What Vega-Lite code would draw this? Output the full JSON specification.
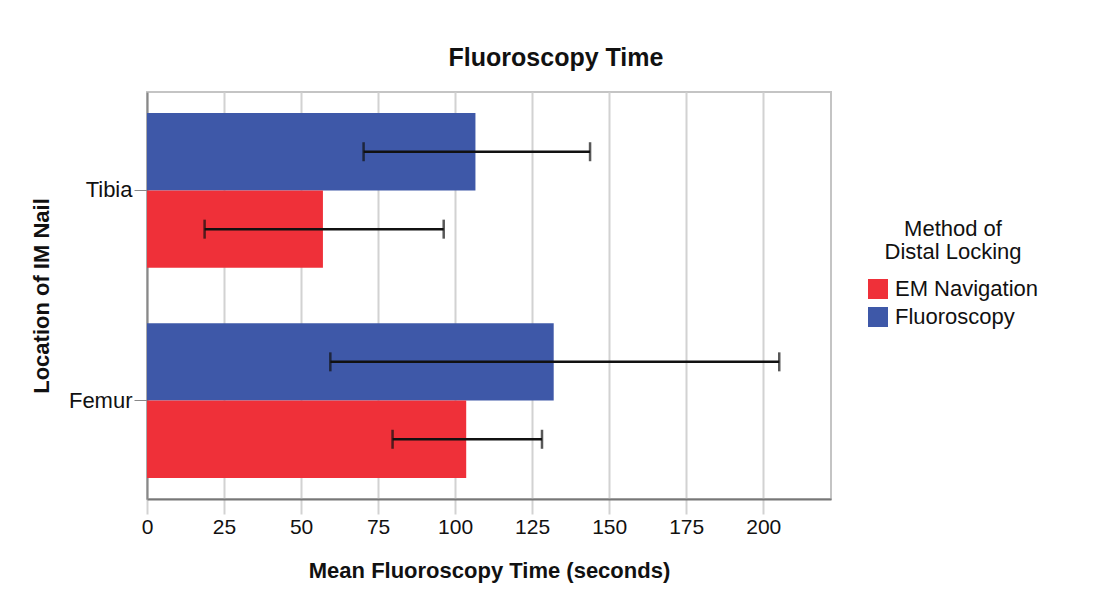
{
  "$schema": "https://vega.github.io/schema/vega-lite/v6.json",
  "autosize": {"type": "none"},
  "width": 684,
  "height": 407,
  "padding": {"left": 147, "top": 92, "right": 269, "bottom": 94},
  "background": "white",
  "title": {
    "text": "Fluoroscopy Time",
    "fontSize": 25,
    "fontWeight": "bold",
    "font": "Liberation Sans",
    "color": "#111",
    "anchor": "middle",
    "frame": "group",
    "dx": 67,
    "offset": 21
  },
  "data": {
    "values": [
      {"location": "Tibia", "method": "Fluoroscopy", "mean": 106.6, "low": 70.3, "high": 143.8},
      {"location": "Tibia", "method": "EM Navigation", "mean": 57.1, "low": 18.7, "high": 96.3},
      {"location": "Femur", "method": "Fluoroscopy", "mean": 132.0, "low": 59.5, "high": 205.2},
      {"location": "Femur", "method": "EM Navigation", "mean": 103.6, "low": 79.7, "high": 128.2}
    ]
  },
  "encoding": {
    "y": {
      "field": "location",
      "type": "nominal",
      "sort": ["Tibia", "Femur"],
      "scale": {"paddingInner": 0.263, "paddingOuter": 0.1},
      "axis": {
        "title": "Location of IM Nail",
        "titleFontSize": 22,
        "titleFontWeight": "bold",
        "titleX": -106,
        "titleY": 203.5,
        "titleAngle": -90,
        "titleBaseline": "middle",
        "titleAlign": "center",
        "labelFontSize": 22,
        "labelPadding": 2,
        "labelBaseline": "middle",
        "tickSize": 13,
        "tickColor": "#888",
        "tickWidth": 1,
        "domainColor": "#888",
        "domainWidth": 2,
        "grid": false
      }
    },
    "yOffset": {
      "field": "method",
      "type": "nominal",
      "sort": ["Fluoroscopy", "EM Navigation"],
      "scale": {"paddingInner": 0, "paddingOuter": 0}
    }
  },
  "layer": [
    {
      "mark": {"type": "bar", "cornerRadius": 0},
      "encoding": {
        "x": {
          "field": "mean",
          "type": "quantitative",
          "scale": {"domain": [0, 222], "nice": false, "zero": true},
          "axis": {
            "title": "Mean Fluoroscopy Time (seconds)",
            "values": [0, 25, 50, 75, 100, 125, 150, 175, 200],
            "titleFontSize": 22,
            "titleFontWeight": "bold",
            "titleBaseline": "alphabetic",
            "titleY": 78,
            "titleX": 342,
            "labelFontSize": 21,
            "labelPadding": 2,
            "labelFlush": false,
            "tickSize": 15,
            "tickColor": "#d2d2d2",
            "tickWidth": 2,
            "gridColor": "#d2d2d2",
            "gridWidth": 2,
            "domainColor": "#777",
            "domainWidth": 2
          }
        },
        "color": {
          "field": "method",
          "type": "nominal",
          "scale": {"domain": ["EM Navigation", "Fluoroscopy"], "range": ["#ef3039", "#3e58a8"]},
          "legend": {
            "title": ["Method of", "Distal Locking"],
            "orient": "none",
            "legendX": 720,
            "legendY": 127,
            "titleFontSize": 22,
            "titleFontWeight": "normal",
            "titleAnchor": "middle",
            "titleAlign": "center",
            "titleLineHeight": 23,
            "titlePadding": 14,
            "labelFontSize": 22,
            "labelOffset": 6,
            "symbolType": "square",
            "symbolSize": 400,
            "symbolStrokeWidth": 0,
            "rowPadding": 6,
            "padding": 0
          }
        }
      }
    },
    {
      "mark": {"type": "rule", "color": "#111", "strokeWidth": 2.5},
      "encoding": {
        "x": {"field": "low", "type": "quantitative"},
        "x2": {"field": "high"}
      }
    },
    {
      "mark": {"type": "tick", "color": "#111", "thickness": 2.5, "size": 19, "orient": "vertical"},
      "encoding": {
        "x": {"field": "low", "type": "quantitative"}
      }
    },
    {
      "mark": {"type": "tick", "color": "#111", "thickness": 2.5, "size": 19, "orient": "vertical"},
      "encoding": {
        "x": {"field": "high", "type": "quantitative"}
      }
    }
  ],
  "config": {
    "font": "Liberation Sans",
    "view": {"stroke": "#c4c4c4", "strokeWidth": 2},
    "axis": {"labelColor": "#111", "titleColor": "#111"},
    "legend": {"labelColor": "#111", "titleColor": "#111"}
  }
}
